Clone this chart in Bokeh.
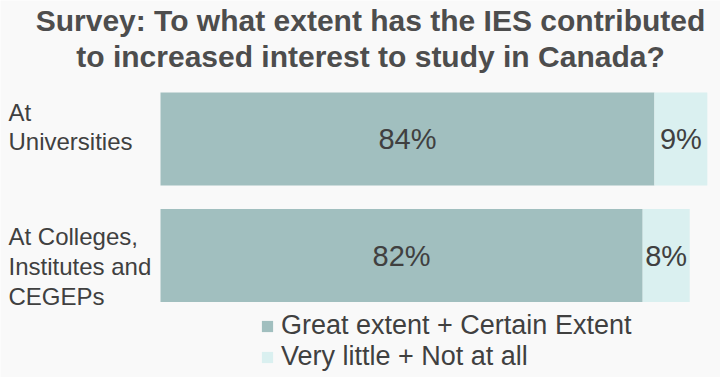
from bokeh.plotting import figure
from bokeh.models import Range1d, Legend, LegendItem
from bokeh.embed import file_html
from bokeh.resources import INLINE
from bokeh.core.properties import value

# ---- data ----
title_text = "Survey: To what extent has the IES contributed\nto increased interest to study in Canada?"
categories = ["At\nUniversities", "At Colleges,\nInstitutes and\nCEGEPs"]
great_certain = [84, 82]
little_none = [9, 8]
series_names = ["Great extent + Certain Extent", "Very little + Not at all"]

# ---- styling / layout ----
colors = ["#a1bfbf", "#daf0f0"]
bg = "#f9f9f9"
txt = "#404040"
FONT_NAME = "Liberation Sans"
font = value(FONT_NAME)
W, H = 720, 377
px_per_pct = 5.88
x0_px = 160
unit = 116.5          # px per category step
first_center = 138.5  # px from top

x_range = Range1d(-x0_px / px_per_pct, (W - x0_px) / px_per_pct)
y_range = Range1d((H - first_center) / unit, -first_center / unit)

p = figure(width=W, height=H, x_range=x_range, y_range=y_range,
           output_backend="svg", toolbar_location=None,
           min_border=0, min_border_left=0, min_border_right=0,
           min_border_top=0, min_border_bottom=0)
p.background_fill_color = bg
p.border_fill_color = bg
p.outline_line_color = None
p.axis.visible = False
p.grid.visible = False

ys = list(range(len(categories)))
totals = [g + l for g, l in zip(great_certain, little_none)]

r1 = p.hbar(y=ys, left=0, right=great_certain, height=0.8,
            fill_color=colors[0], line_color=None)
r2 = p.hbar(y=ys, left=great_certain, right=totals, height=0.8,
            fill_color=colors[1], line_color=None)

# value labels
p.text(x=[g / 2 for g in great_certain], y=ys,
       text=[f"{g}%" for g in great_certain],
       text_align="center", text_baseline="middle",
       text_font=font, text_font_size="29px", text_color=txt)
p.text(x=[g + l / 2 for g, l in zip(great_certain, little_none)], y=ys,
       text=[f"{l}%" for l in little_none],
       text_align="center", text_baseline="middle",
       text_font=font, text_font_size="29px", text_color=txt)

# category labels (left, multi-line)
label_x = x_range.start + 8 / px_per_pct
label_offsets = [-12, 11]  # px shift of each label block from bar centre
for yc, cat, off in zip(ys, categories, label_offsets):
    p.text(x=[label_x], y=[yc + off / unit], text=[cat],
           text_align="left", text_baseline="middle",
           text_font=font, text_font_size="24px", text_color=txt,
           text_line_height=1.1)

# title
title_x = (370 - x0_px) / px_per_pct
title_y = (38 - first_center) / unit
p.text(x=[title_x], y=[title_y], text=[title_text],
       text_align="center", text_baseline="middle",
       text_font=font, text_font_size="30px", text_font_style="bold",
       text_color="#4d4d4d", text_line_height=1.12)

legend = Legend(items=[LegendItem(label=series_names[0], renderers=[r1]),
                       LegendItem(label=series_names[1], renderers=[r2])],
                location=(260, 5), orientation="vertical",
                glyph_width=14, glyph_height=14, label_standoff=7,
                spacing=0, padding=0, margin=0,
                border_line_color=None, background_fill_alpha=0,
                label_text_font=FONT_NAME, label_text_font_size="27px",
                label_text_color=txt, label_height=27)
p.add_layout(legend)

open("out.html", "w").write(file_html(p, INLINE))
